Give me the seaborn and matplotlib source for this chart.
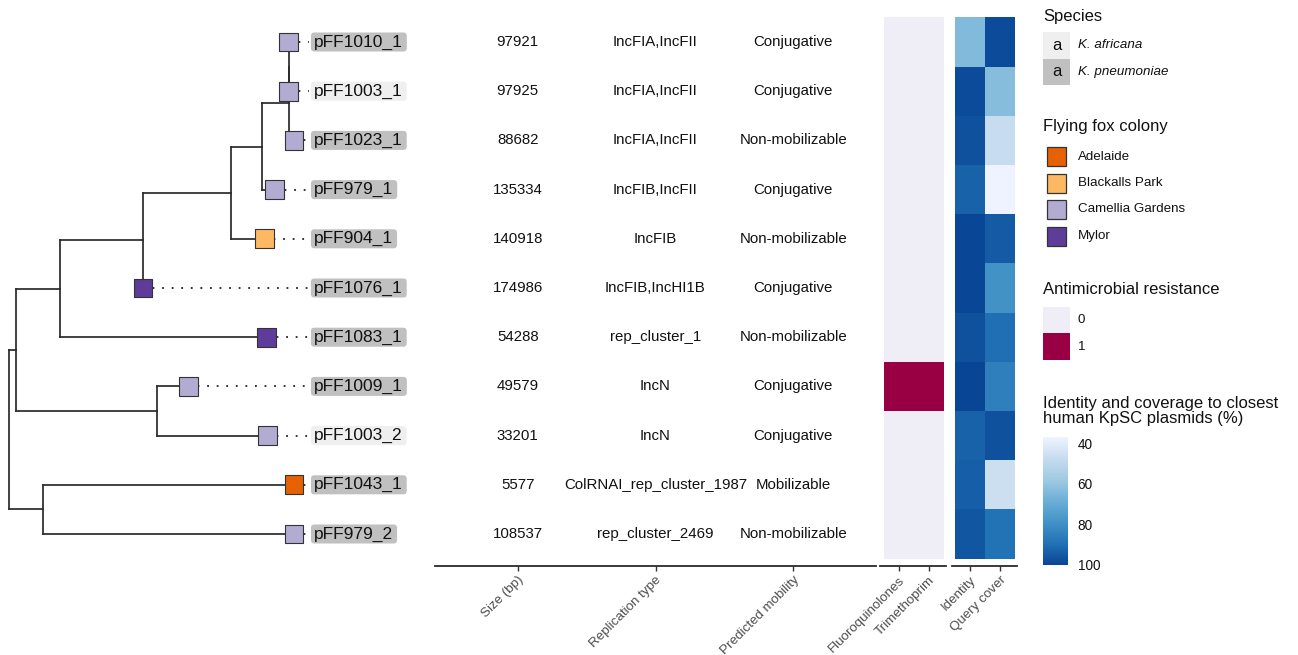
import numpy as np
import pandas as pd
import matplotlib
matplotlib.use("Agg")
import matplotlib.pyplot as plt
import seaborn as sns
from matplotlib.colors import LinearSegmentedColormap, ListedColormap, Normalize
from matplotlib.patches import FancyBboxPatch, Rectangle
from matplotlib.cm import ScalarMappable

# ---------------- data ----------------
tips = ["pFF1010_1", "pFF1003_1", "pFF1023_1", "pFF979_1", "pFF904_1", "pFF1076_1",
        "pFF1083_1", "pFF1009_1", "pFF1003_2", "pFF1043_1", "pFF979_2"]

# tree edges: (child, parent, branch length)
edge_child = ["n1", "n8", "n2", "n7", "n3", "pFF1083_1", "n4", "pFF1076_1", "n5", "pFF904_1",
              "n6", "pFF979_1", "n6b", "pFF1023_1", "pFF1010_1", "pFF1003_1",
              "pFF1009_1", "pFF1003_2", "pFF1043_1", "pFF979_2"]
edge_parent = ["root", "root", "n1", "n1", "n2", "n2", "n3", "n3", "n4", "n4",
               "n5", "n5", "n6", "n6", "n6b", "n6b",
               "n7", "n7", "n8", "n8"]
edge_length = [0.025, 0.119, 0.154, 0.495, 0.291, 0.726, 0.309, 0.0, 0.109, 0.116,
               0.094, 0.045, 0.0, 0.018, 0.0, 0.0,
               0.109, 0.386, 0.881, 0.881]

species = ["K. pneumoniae", "K. africana", "K. pneumoniae", "K. pneumoniae", "K. pneumoniae",
           "K. pneumoniae", "K. pneumoniae", "K. pneumoniae", "K. africana", "K. pneumoniae",
           "K. pneumoniae"]
colony = ["Camellia Gardens", "Camellia Gardens", "Camellia Gardens", "Camellia Gardens",
          "Blackalls Park", "Mylor", "Mylor", "Camellia Gardens", "Camellia Gardens",
          "Adelaide", "Camellia Gardens"]

size_bp = ["97921", "97925", "88682", "135334", "140918", "174986", "54288", "49579",
           "33201", "5577", "108537"]
rep_type = ["IncFIA,IncFII", "IncFIA,IncFII", "IncFIA,IncFII", "IncFIB,IncFII", "IncFIB",
            "IncFIB,IncHI1B", "rep_cluster_1", "IncN", "IncN", "ColRNAI_rep_cluster_1987",
            "rep_cluster_2469"]
mobility = ["Conjugative", "Conjugative", "Non-mobilizable", "Conjugative", "Non-mobilizable",
            "Conjugative", "Non-mobilizable", "Conjugative", "Conjugative", "Mobilizable",
            "Non-mobilizable"]
text_cols = ["Size (bp)", "Replication type", "Predicted mobility"]

amr_cols = ["Fluoroquinolones", "Trimethoprim"]
fluoroquinolones = [0, 0, 0, 0, 0, 0, 0, 1, 0, 0, 0]
trimethoprim = [0, 0, 0, 0, 0, 0, 0, 1, 0, 0, 0]

blast_cols = ["Identity", "Query cover"]
identity = [64, 98.5, 97, 93, 99.5, 99.5, 97, 100, 93, 94, 96]
query_cover = [98.5, 63, 47, 37, 95, 79, 90, 85, 97, 46, 89]

colony_order = ["Adelaide", "Blackalls Park", "Camellia Gardens", "Mylor"]
colony_colors = ["#E66101", "#FDB863", "#B2ABD2", "#5E3C99"]
species_order = ["K. africana", "K. pneumoniae"]
species_colors = ["#EFEFEF", "#C0C0C0"]
amr_colors = ["#EFEDF5", "#980043"]
blues7 = ["#EFF3FF", "#C6DBEF", "#9ECAE1", "#6BAED6", "#4292C6", "#2171B5", "#084594"]

# ---------------- tree layout ----------------
parent_of = dict(zip(edge_child, edge_parent))
blen = dict(zip(edge_child, edge_length))
children = {}
for c, p in zip(edge_child, edge_parent):
    children.setdefault(p, []).append(c)

depth = {"root": 0.0}
def set_depth(n):
    for c in children.get(n, []):
        depth[c] = depth[n] + blen[c]
        set_depth(c)
set_depth("root")

ypos = {t: i + 0.5 for i, t in enumerate(tips)}
def set_y(n):
    if n in ypos:
        return ypos[n]
    ys = [set_y(c) for c in children[n]]
    ypos[n] = float(np.mean(ys))
    return ypos[n]
set_y("root")

# ---------------- figure ----------------
sns.set_style("white")
plt.rcParams['font.family'] = ['Liberation Sans', 'DejaVu Sans']
W, H = 1298, 655
fig = plt.figure(figsize=(W / 100, H / 100), dpi=100)

top_px, bot_px = 17.4, 558.6
def fx(px):
    return px / W
ax_bottom = 1 - bot_px / H
ax_height = (bot_px - top_px) / H

INK = "#333333"
TICKC = "#4D4D4D"

# tree panel
axT = fig.add_axes([0, ax_bottom, fx(435), ax_height])
px_per_unit = 285.0
x0 = -9 / px_per_unit
axT.set_xlim(x0, x0 + 435 / px_per_unit)
axT.set_ylim(11, 0)
axT.axis("off")

for n, chs in children.items():
    cy = [ypos[c] for c in chs]
    axT.plot([depth[n], depth[n]], [min(cy), max(cy)], color="#2A2A2A", lw=1.25,
             solid_capstyle="projecting", zorder=2)
    for c in chs:
        axT.plot([depth[n], depth[c]], [ypos[c], ypos[c]], color="#2A2A2A", lw=1.25,
                 solid_capstyle="projecting", zorder=2)

label_x = 1.06
for t in tips:
    axT.plot([depth[t], label_x - 0.008], [ypos[t], ypos[t]], color="#222222", lw=1.3,
             dashes=(1, 4.3), zorder=1)

tipdf = pd.DataFrame({"x": [depth[t] for t in tips], "y": [ypos[t] for t in tips],
                      "colony": colony})
sns.scatterplot(data=tipdf, x="x", y="y", hue="colony", hue_order=colony_order,
                palette=colony_colors, marker="s", s=185, edgecolor=INK, linewidth=0.8,
                legend=False, ax=axT, zorder=4)
axT.set_xlabel("")
axT.set_ylabel("")

tip_texts = []
for t in tips:
    tt = axT.text(label_x + 0.01, ypos[t], t, ha="left", va="center", fontsize=12.5,
                  color="#111111", zorder=6)
    tip_texts.append(tt)

# text panel
axX = fig.add_axes([fx(435), ax_bottom, fx(441), ax_height])
axX.set_xlim(0.4, 3.6)
axX.set_ylim(11, 0)
for i in range(len(tips)):
    for j, col in enumerate([size_bp, rep_type, mobility]):
        axX.text(j + 1, i + 0.5, col[i], ha="center", va="center", fontsize=10.8,
                 color="#111111")

# AMR heatmap
amr_df = pd.DataFrame({amr_cols[0]: fluoroquinolones, amr_cols[1]: trimethoprim}, index=tips)
axA = fig.add_axes([fx(880), ax_bottom, fx(66), ax_height])
sns.heatmap(amr_df, cmap=ListedColormap(amr_colors), vmin=0, vmax=1, cbar=False, ax=axA)
axA.set_xlim(-0.13, 2.07)
axA.set_ylim(11, 0)

# blast heatmap
blast_df = pd.DataFrame({blast_cols[0]: identity, blast_cols[1]: query_cover}, index=tips)
blues = LinearSegmentedColormap.from_list("blues7", blues7)
vmin = float(np.min(blast_df.values))
vmax = float(np.max(blast_df.values))
axB = fig.add_axes([fx(952), ax_bottom, fx(65), ax_height])
sns.heatmap(blast_df, cmap=blues, vmin=vmin, vmax=vmax, cbar=False, ax=axB)
axB.set_xlim(-0.1, 2.07)
axB.set_ylim(11, 0)

for ax, ticks, labels in [(axX, [1, 2, 3], text_cols),
                          (axA, [0.5, 1.5], amr_cols),
                          (axB, [0.5, 1.5], blast_cols)]:
    for s in ["top", "right", "left"]:
        ax.spines[s].set_visible(False)
    ax.spines["bottom"].set_visible(True)
    ax.spines["bottom"].set_color("#2A2A2A")
    ax.spines["bottom"].set_linewidth(1.3)
    ax.spines["bottom"].set_position(("outward", 5.5))
    ax.set_yticks([])
    ax.set_ylabel("")
    ax.set_xlabel("")
    ax.set_xticks(ticks)
    ax.set_xticklabels(labels, rotation=45, ha="right", va="top",
                       rotation_mode="anchor", fontsize=9.6, color=TICKC)
    ax.tick_params(axis="x", bottom=True, length=3.5, width=1.0, color=INK, pad=2)
    ax.patch.set_alpha(0)

# ---------------- legends ----------------
axL = fig.add_axes([0, 0, 1, 1], zorder=-1)
axL.set_xlim(0, W)
axL.set_ylim(H, 0)
axL.axis("off")

LX = 1043
TXT = 1078
axL.text(LX, 17, "Species", fontsize=12, va="center", ha="left", color="#111111")
for k, (sp, c) in enumerate(zip(species_order, species_colors)):
    yc = 45.5 + k * 26.5
    axL.add_patch(Rectangle((LX, yc - 13.25), 27, 26.5, facecolor=c, edgecolor="none"))
    axL.text(LX + 13.5, yc, "a", fontsize=12, ha="center", va="center", color="#111111")
    axL.text(TXT, yc, sp, fontsize=9.6, ha="left", va="center", style="italic",
             color="#111111")

axL.text(LX, 127, "Flying fox colony", fontsize=12, va="center", ha="left", color="#111111")
for k, (cn, c) in enumerate(zip(colony_order, colony_colors)):
    yc = 156.5 + k * 26.5
    axL.add_patch(Rectangle((LX + 4, yc - 9.5), 19, 19, facecolor=c, edgecolor=INK, lw=0.9))
    axL.text(TXT, yc, cn, fontsize=9.6, ha="left", va="center", color="#111111")

axL.text(LX, 290, "Antimicrobial resistance", fontsize=12, va="center", ha="left",
         color="#111111")
for k, c in enumerate(amr_colors):
    yc = 320 + k * 26.5
    axL.add_patch(Rectangle((LX, yc - 13.25), 27, 26.5, facecolor=c, edgecolor="none"))
    axL.text(TXT, yc, str(k), fontsize=9.6, ha="left", va="center", color="#111111")

axL.text(LX, 411, "Identity and coverage to closest\nhuman KpSC plasmids (%)", fontsize=12,
         va="center", ha="left", linespacing=1.0, color="#111111")

cax = fig.add_axes([fx(1043), 1 - 565 / H, fx(25), 128 / H])
cb = fig.colorbar(ScalarMappable(norm=Normalize(vmin, vmax), cmap=blues), cax=cax)
cb.outline.set_visible(False)
cax.invert_yaxis()
cb.set_ticks([40, 60, 80, 100])
cax.yaxis.set_ticks_position("both")
cax.tick_params(axis="y", direction="in", length=4, width=0.8, colors="white",
                labelcolor="#111111", labelsize=9.8, pad=7, labelleft=False, labelright=True)

# ---------------- tip label boxes ----------------
fig.canvas.draw()
renderer = fig.canvas.get_renderer()
inv = axT.transData.inverted()
sp_color = dict(zip(species_order, species_colors))
for tt, t, sp in zip(tip_texts, tips, species):
    bb = tt.get_window_extent(renderer)
    yc_disp = axT.transData.transform((0, ypos[t]))[1]
    (xa, ya) = inv.transform((bb.x0 - 3, yc_disp - 9.5))
    (xb, yb) = inv.transform((bb.x1 + 4, yc_disp + 9.5))
    axT.add_patch(FancyBboxPatch((xa, min(ya, yb)), xb - xa, abs(yb - ya),
                                 boxstyle="round,pad=0,rounding_size=0.012",
                                 mutation_aspect=abs(yb - ya) / ((xb - xa) * 0.2),
                                 facecolor=sp_color[sp], edgecolor="none", zorder=5))

fig.savefig("out.png", dpi=100)
